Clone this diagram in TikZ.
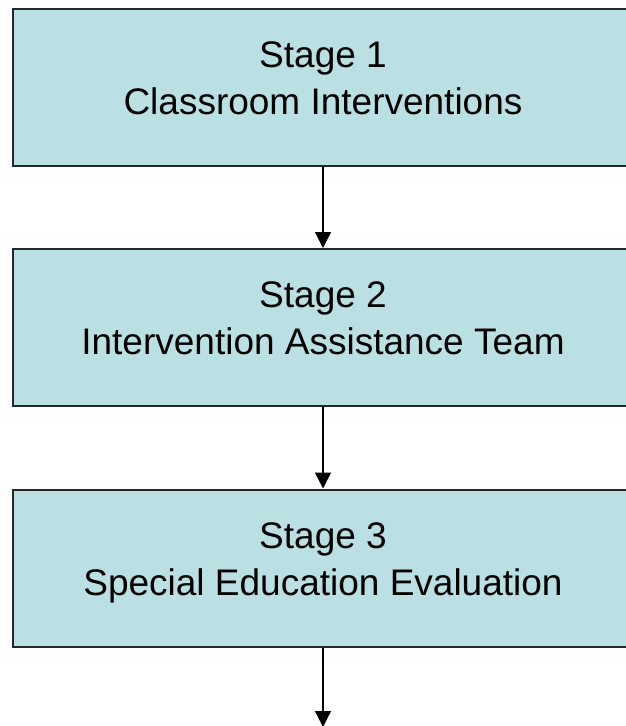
\documentclass[tikz,border=0pt]{standalone}
\usepackage{fontspec}
\setmainfont{Liberation Sans}
\usetikzlibrary{positioning}
\usetikzlibrary{arrows.meta}
\definecolor{stagefill}{RGB}{187,224,227}
\tikzset{
    stagebox/.style = {rectangle, line width=2pt, draw=black!85, fill=stagefill, align=center,
        minimum width=620pt, minimum height=157pt, inner sep=0pt,
        font=\fontsize{37}{47}\selectfont},
    edgen/.style = {-{Triangle[width=16pt,length=16pt]}, line width=1.2pt}
}
\begin{document}
\begin{tikzpicture}[x=1pt,y=-1pt]
\useasboundingbox (0,0) rectangle (625,726);
%
\node[stagebox] at (323, 87.5) (stage1) {Stage 1\\Classroom Interventions\\[-29pt]};
\node[stagebox] at (323, 327.5) (stage2) {Stage 2\\Intervention Assistance Team\\[-29pt]};
\node[stagebox] at (323, 568) (stage3) {Stage 3\\Special Education Evaluation\\[-29pt]};
\coordinate (out) at (323, 727);
%
\draw[edgen] (stage1) -- (stage2);
\draw[edgen] (stage2) -- (stage3);
\draw[edgen] (stage3) -- (out);
\end{tikzpicture}
\end{document}
